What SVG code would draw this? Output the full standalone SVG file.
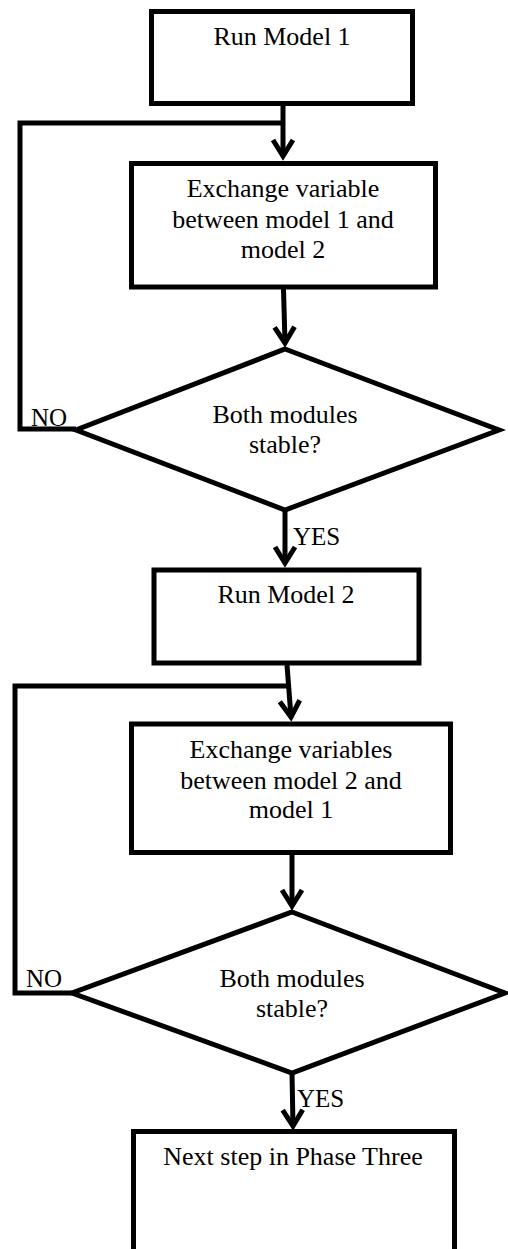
<svg xmlns="http://www.w3.org/2000/svg" width="508" height="1249" viewBox="0 0 508 1249">
<style>
.box{fill:#fff;stroke:#000;stroke-width:5}
.dia{fill:#fff;stroke:#000;stroke-width:5;stroke-linejoin:miter}
.lbl{font-family:"Liberation Serif","Times New Roman",serif;font-size:26px;fill:#000;text-anchor:middle}
.lab{font-family:"Liberation Serif","Times New Roman",serif;font-size:25px;fill:#000}
.con{fill:none;stroke:#000;stroke-width:5;stroke-linejoin:miter}
</style>
<defs>
<marker id="arr" markerUnits="userSpaceOnUse" markerWidth="40" markerHeight="40" viewBox="-20 -20 40 40" refX="0" refY="0" orient="auto" overflow="visible">
<path d="M-16,-10 L0,0 L-16,10" fill="none" stroke="#000" stroke-width="5" stroke-linejoin="miter"/>
</marker>
</defs>
<rect width="508" height="1249" fill="#fff"/>
<g id="connectors">
<path class="con" d="M283,106 L283,156" marker-end="url(#arr)"/>
<path class="con" d="M76,429 L20,429 L20,123 L283,123"/>
<path class="con" d="M283.5,289 L285,343" marker-end="url(#arr)"/>
<path class="con" d="M285,510 L285,563" marker-end="url(#arr)"/>
<path class="con" d="M287,665 L291,717" marker-end="url(#arr)"/>
<path class="con" d="M72,993 L15,993 L15,686 L290,686"/>
<path class="con" d="M292,855 L292,906" marker-end="url(#arr)"/>
<path class="con" d="M292,1073 L293,1126" marker-end="url(#arr)"/>
</g>
<g id="n1">
<rect class="box" x="151.5" y="11.5" width="261" height="92"/>
<text class="lbl" x="282" y="45">Run Model 1</text>
</g>
<g id="n2">
<rect class="box" x="131.5" y="163.5" width="304" height="123.5"/>
<text class="lbl" x="283" y="197">Exchange variable</text>
<text class="lbl" x="283" y="228">between model 1 and</text>
<text class="lbl" x="283" y="258">model 2</text>
</g>
<g id="n3">
<path class="dia" d="M285,349 L499,430 L285,510 L76,430 Z"/>
<text class="lbl" x="285" y="423">Both modules</text>
<text class="lbl" x="285" y="453">stable?</text>
</g>
<g id="n4">
<rect class="box" x="154" y="570" width="265" height="93"/>
<text class="lbl" x="286" y="603">Run Model 2</text>
</g>
<g id="n5">
<rect class="box" x="131.5" y="724" width="319" height="128.5"/>
<text class="lbl" x="291" y="758">Exchange variables</text>
<text class="lbl" x="291" y="789">between model 2 and</text>
<text class="lbl" x="291" y="818">model 1</text>
</g>
<g id="n6">
<path class="dia" d="M292,912 L505,993 L292,1073 L72,993 Z"/>
<text class="lbl" x="292" y="987">Both modules</text>
<text class="lbl" x="292" y="1017">stable?</text>
</g>
<g id="n7">
<rect class="box" x="133.5" y="1131.5" width="321" height="150"/>
<text class="lbl" x="293" y="1165">Next step in Phase Three</text>
</g>
<g id="labels">
<text class="lab" x="31" y="426">NO</text>
<text class="lab" x="293" y="545">YES</text>
<text class="lab" x="26" y="987">NO</text>
<text class="lab" x="297" y="1107">YES</text>
</g>
</svg>
